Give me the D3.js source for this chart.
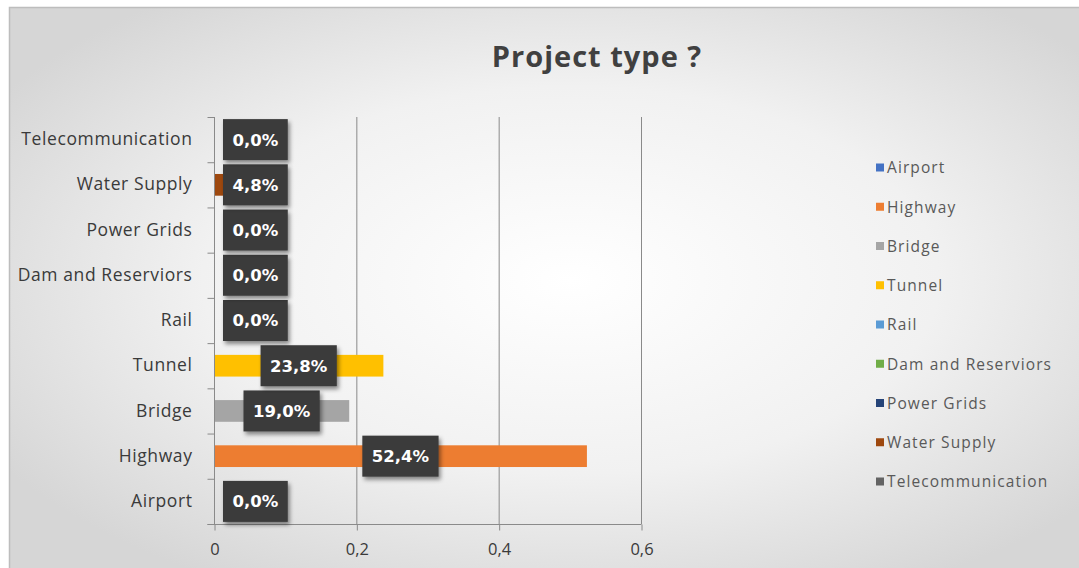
<!DOCTYPE html>
<html>
<head>
<meta charset="utf-8">
<script src="https://cdn.jsdelivr.net/npm/d3@7"></script>
<style>
  html, body { margin: 0; padding: 0; background: #fff; }
  svg { display: block; }
</style>
</head>
<body>
<svg id="chart" width="1079" height="568"></svg>
<script>
// Project types and their share of responses
const categories = ["Airport", "Highway", "Bridge", "Tunnel", "Rail",
                    "Dam and Reserviors", "Power Grids", "Water Supply", "Telecommunication"];
const values = [0.0, 0.524, 0.190, 0.238, 0.0, 0.0, 0.0, 0.048, 0.0];
const labels = ["0,0%", "52,4%", "19,0%", "23,8%", "0,0%", "0,0%", "0,0%", "4,8%", "0,0%"];
const colors = ["#4472C4", "#ED7D31", "#A5A5A5", "#FFC000", "#5B9BD5",
                "#70AD47", "#264478", "#9E480E", "#636363"];
const xTicks = [0, 0.2, 0.4, 0.6];
const xTickLabels = ["0", "0,2", "0,4", "0,6"];
const title = "Project type ?";

const W = 1079, H = 568;
const svg = d3.select("#chart");
const defs = svg.append("defs");

// soft radial background
const grad = defs.append("radialGradient").attr("id", "bg")
  .attr("cx", "52%").attr("cy", "48%").attr("r", "62%");
grad.append("stop").attr("offset", "0%").attr("stop-color", "#ffffff");
grad.append("stop").attr("offset", "55%").attr("stop-color", "#f1f1f1");
grad.append("stop").attr("offset", "100%").attr("stop-color", "#d6d6d6");

// drop shadow for value callouts
const shadow = defs.append("filter").attr("id", "shadow")
  .attr("x", "-20%").attr("y", "-20%").attr("width", "150%").attr("height", "160%");
shadow.append("feDropShadow").attr("dx", 2).attr("dy", 3)
  .attr("stdDeviation", 2.2).attr("flood-color", "#000").attr("flood-opacity", 0.45);

svg.append("rect").attr("x", 9.5).attr("y", 7.5).attr("width", W).attr("height", H)
  .attr("fill", "url(#bg)").attr("stroke", "#bdbdbd").attr("stroke-width", 1.5);

// title
svg.append("text").attr("x", 597).attr("y", 67).attr("text-anchor", "middle")
  .attr("font-family", "'Open Sans', sans-serif").attr("font-weight", "bold")
  .attr("font-size", 29).attr("letter-spacing", 1).attr("fill", "#404040").text(title);

// plot geometry
const x0 = 214, x1 = 641, yTop = 117, yBot = 524;
const x = d3.scaleLinear().domain([0, 0.6]).range([x0, x1]);
const y = d3.scaleBand().domain(categories.slice().reverse()).range([yTop, yBot]);
const barH = y.bandwidth() * 0.48;

const axisColor = "#8a8a8a";

// vertical gridlines
svg.append("g").selectAll("line").data(xTicks.filter(d => d > 0)).join("line")
  .attr("x1", d => x(d) + 0.5).attr("x2", d => x(d) + 0.5)
  .attr("y1", yTop).attr("y2", yBot)
  .attr("stroke", axisColor).attr("stroke-width", 1);

// bars
svg.append("g").selectAll("rect").data(categories).join("rect")
  .attr("x", x(0)).attr("y", d => y(d) + (y.bandwidth() - barH) / 2)
  .attr("width", (d, i) => x(values[i]) - x(0)).attr("height", barH)
  .attr("fill", (d, i) => colors[i]);

// y axis (category)
const yAxis = d3.axisLeft(y).tickSize(0).tickPadding(22);
const gy = svg.append("g").attr("transform", `translate(${x0 + 0.5},0)`).call(yAxis);
gy.select(".domain").attr("stroke", axisColor).attr("d", `M0,${yTop}V${yBot}`);
gy.selectAll("text").attr("font-family", "'Open Sans', sans-serif")
  .attr("font-size", 17.5).attr("letter-spacing", 0.6).attr("fill", "#3a3a3a");
// tick marks on band boundaries
const bounds = d3.range(categories.length + 1).map(i => yTop + i * y.step());
gy.selectAll("line.bound").data(bounds).join("line").attr("class", "bound")
  .attr("x1", -7).attr("x2", 0).attr("y1", d => d + 0.5).attr("y2", d => d + 0.5)
  .attr("stroke", axisColor);

// x axis
const xAxis = d3.axisBottom(x).tickValues(xTicks)
  .tickFormat((d, i) => xTickLabels[i]).tickSize(6).tickPadding(13);
const gx = svg.append("g").attr("transform", `translate(0.5,${yBot + 0.5})`).call(xAxis);
gx.select(".domain").attr("stroke", axisColor).attr("d", `M${x0 - 7},0H${x1}`);
gx.selectAll(".tick line").attr("stroke", axisColor);
gx.selectAll("text").attr("font-family", "'Open Sans', sans-serif")
  .attr("font-size", 16.5).attr("fill", "#3a3a3a");

// value callouts
const labelFont = "bold 16.5px 'DejaVu Sans'";
const ctx = document.createElement("canvas").getContext("2d");
ctx.font = labelFont;
const boxH = 41, padX = 9.5;
const callouts = svg.append("g");
categories.forEach((c, i) => {
  const tw = ctx.measureText(labels[i]).width;
  const bw = tw + padX * 2;
  const cx = Math.max((x(0) + x(values[i])) / 2, x0 + 9 + bw / 2);
  const cy = y(c) + y.bandwidth() / 2;
  const g = callouts.append("g");
  g.append("rect").attr("x", cx - bw / 2).attr("y", cy - boxH / 2)
    .attr("width", bw).attr("height", boxH).attr("fill", "#3b3b3b")
    .attr("filter", "url(#shadow)");
  g.append("text").attr("x", cx).attr("y", cy).attr("dy", "0.36em")
    .attr("text-anchor", "middle").attr("font-family", "'DejaVu Sans', sans-serif")
    .attr("font-weight", "bold").attr("font-size", 16.5).attr("fill", "#ffffff")
    .text(labels[i]);
});

// legend
const legend = svg.append("g").attr("transform", "translate(876,168)");
const items = legend.selectAll("g").data(categories).join("g")
  .attr("transform", (d, i) => `translate(0,${i * 39.25})`);
items.append("rect").attr("x", 0).attr("y", -4.5).attr("width", 8).attr("height", 8)
  .attr("fill", (d, i) => colors[i]);
items.append("text").attr("x", 11).attr("y", 0).attr("dy", "0.35em")
  .attr("font-family", "'Open Sans', sans-serif").attr("font-size", 15.5)
  .attr("letter-spacing", 1.1).attr("fill", "#595959").text(d => d);
</script>
</body>
</html>
